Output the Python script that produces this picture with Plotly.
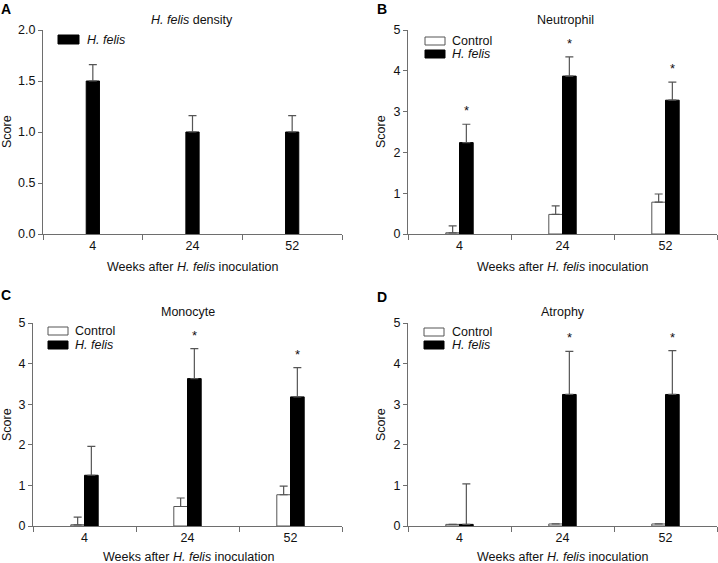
import plotly.graph_objects as go

W, H = 718, 563

weeks = ["4", "24", "52"]

# Panel A: H. felis density
a_hfelis = [1.5, 1.0, 1.0]
a_hfelis_err = [0.16, 0.16, 0.16]

# Panel B: Neutrophil
b_control = [0.03, 0.48, 0.78]
b_control_err = [0.17, 0.21, 0.20]
b_hfelis = [2.24, 3.87, 3.28]
b_hfelis_err = [0.45, 0.47, 0.44]
b_sig = [True, True, True]

# Panel C: Monocyte
c_control = [0.03, 0.48, 0.77]
c_control_err = [0.19, 0.21, 0.21]
c_hfelis = [1.25, 3.63, 3.18]
c_hfelis_err = [0.71, 0.74, 0.72]
c_sig = [False, True, True]

# Panel D: Atrophy
d_control = [0.04, 0.05, 0.05]
d_control_err = [0.0, 0.0, 0.0]
d_hfelis = [0.04, 3.24, 3.24]
d_hfelis_err = [1.0, 1.06, 1.08]
d_sig = [False, True, True]

FONT = "Liberation Sans, Arial, sans-serif"
FS = 12.5
AX = "#6e6e6e"
ERR = "#555555"
BW = 0.133


def px_x(p):
    return p / W


def px_y(p):
    return 1 - p / H


panels = {
    "A": dict(x=(43, 342), y=(30, 234), yr=2.0, dt=0.5, fmt=".1f"),
    "B": dict(x=(408, 717), y=(30, 234), yr=5.0, dt=1, fmt="d"),
    "C": dict(x=(33, 342), y=(323, 526), yr=5.0, dt=1, fmt="d"),
    "D": dict(x=(408, 717), y=(323, 526), yr=5.0, dt=1, fmt="d"),
}

fig = go.Figure()
layout = dict(
    width=W, height=H, margin=dict(l=0, r=0, t=0, b=0, pad=0, autoexpand=False),
    paper_bgcolor="white", plot_bgcolor="white",
    font=dict(family=FONT, size=FS, color="#111"),
    showlegend=False, barmode="overlay",
)
annotations = []
shapes = []

for i, (key, p) in enumerate(panels.items()):
    n = "" if i == 0 else str(i + 1)
    layout["xaxis" + n] = dict(
        domain=[px_x(p["x"][0]), px_x(p["x"][1])], anchor="y" + n,
        type="category", categoryorder="array", categoryarray=weeks,
        range=[-0.5, 2.5], tickson="boundaries", ticks="outside", ticklen=5,
        tickcolor=AX, showline=True, linecolor=AX, linewidth=1, automargin=False,
        showgrid=False, zeroline=False, tickfont=dict(size=FS, family=FONT, color="#111"),
    )
    layout["yaxis" + n] = dict(
        domain=[px_y(p["y"][1]), px_y(p["y"][0])], anchor="x" + n,
        range=[0, p["yr"]], dtick=p["dt"], tickformat=p["fmt"], automargin=False,
        ticks="outside", ticklen=4, tickcolor=AX, showline=True, linecolor=AX,
        linewidth=1, showgrid=False, zeroline=False,
        tickfont=dict(size=FS, family=FONT, color="#111"),
    )

xa = ["x", "x2", "x3", "x4"]
ya = ["y", "y2", "y3", "y4"]


def err(arr):
    return dict(type="data", array=arr, arrayminus=[0] * len(arr), symmetric=False,
                color=ERR, thickness=1.2, width=4)


# Panel A
fig.add_trace(go.Bar(x=weeks, y=a_hfelis, width=BW, offset=-BW / 2,
                     marker=dict(color="black", line=dict(color="black", width=1)),
                     error_y=err(a_hfelis_err), xaxis="x", yaxis="y", name="H. felis"))

grp = [(b_control, b_control_err, b_hfelis, b_hfelis_err, b_sig),
       (c_control, c_control_err, c_hfelis, c_hfelis_err, c_sig),
       (d_control, d_control_err, d_hfelis, d_hfelis_err, d_sig)]

for k, (cv, ce, hv, he, sig) in enumerate(grp):
    xr, yr = xa[k + 1], ya[k + 1]
    fig.add_trace(go.Bar(x=weeks, y=cv, width=BW, offset=-BW,
                         marker=dict(color="white", line=dict(color="#555", width=1)),
                         error_y=err(ce), xaxis=xr, yaxis=yr, name="Control"))
    fig.add_trace(go.Bar(x=weeks, y=hv, width=BW, offset=0,
                         marker=dict(color="black", line=dict(color="black", width=1)),
                         error_y=err(he), xaxis=xr, yaxis=yr, name="H. felis"))
    for idx, (v, e, s) in enumerate(zip(hv, he, sig)):
        if s:
            annotations.append(dict(
                x=idx + BW / 2, y=v + e, xref=xr, yref=yr, text="*", showarrow=False,
                xanchor="center", yanchor="bottom", yshift=4,
                font=dict(size=13, family=FONT, color="#111")))


def ann(x, y, text, **kw):
    d = dict(x=px_x(x), y=px_y(y), xref="paper", yref="paper", text=text,
             xanchor="center", yanchor="middle",
             showarrow=False, font=dict(size=FS, family=FONT, color="#111"))
    d.update(kw)
    annotations.append(d)


def box(x0, y0, x1, y1, fill, line):
    shapes.append(dict(type="rect", xref="paper", yref="paper",
                       x0=px_x(x0), x1=px_x(x1), y0=px_y(y1), y1=px_y(y0),
                       fillcolor=fill, line=dict(color=line, width=1)))


# Panel letters
for lt, (x, y) in {"A": (6, 9), "B": (382, 9), "C": (6, 295), "D": (382, 297)}.items():
    ann(x, y, "<b>%s</b>" % lt, font=dict(size=14, family=FONT, color="#000"))

# Titles
ann(192, 20, "<i>H. felis</i> density")
ann(565, 20, "Neutrophil")
ann(188, 312, "Monocyte")
ann(563, 312, "Atrophy")

# Y titles
for x, y in [(7, 132), (381, 132), (7, 425), (381, 425)]:
    ann(x, y, "Score", textangle=-90)

# X titles
xt = "Weeks after <i>H. felis</i> inoculation"
for x, y in [(192, 267), (562, 267), (188, 557), (562, 557)]:
    ann(x, y, xt)

# Legends
box(58, 35, 79, 44, "black", "black")
ann(85, 40, "<i>H. felis</i>", xanchor="left")
for (bx, cy, hy, tx) in [(425, 41, 54, 450), (48, 331, 345, 73), (424, 332, 345, 450)]:
    box(bx, cy - 4, bx + 20, cy + 4, "white", "#555")
    box(bx, hy - 4, bx + 20, hy + 4, "black", "black")
    ann(tx, cy, "Control", xanchor="left")
    ann(tx, hy, "<i>H. felis</i>", xanchor="left")

layout["annotations"] = annotations
layout["shapes"] = shapes
fig.update_layout(**layout)
fig.write_html("out.html", config={"displayModeBar": False},
               post_script="document.body.style.margin='0';document.body.style.padding='0';")
